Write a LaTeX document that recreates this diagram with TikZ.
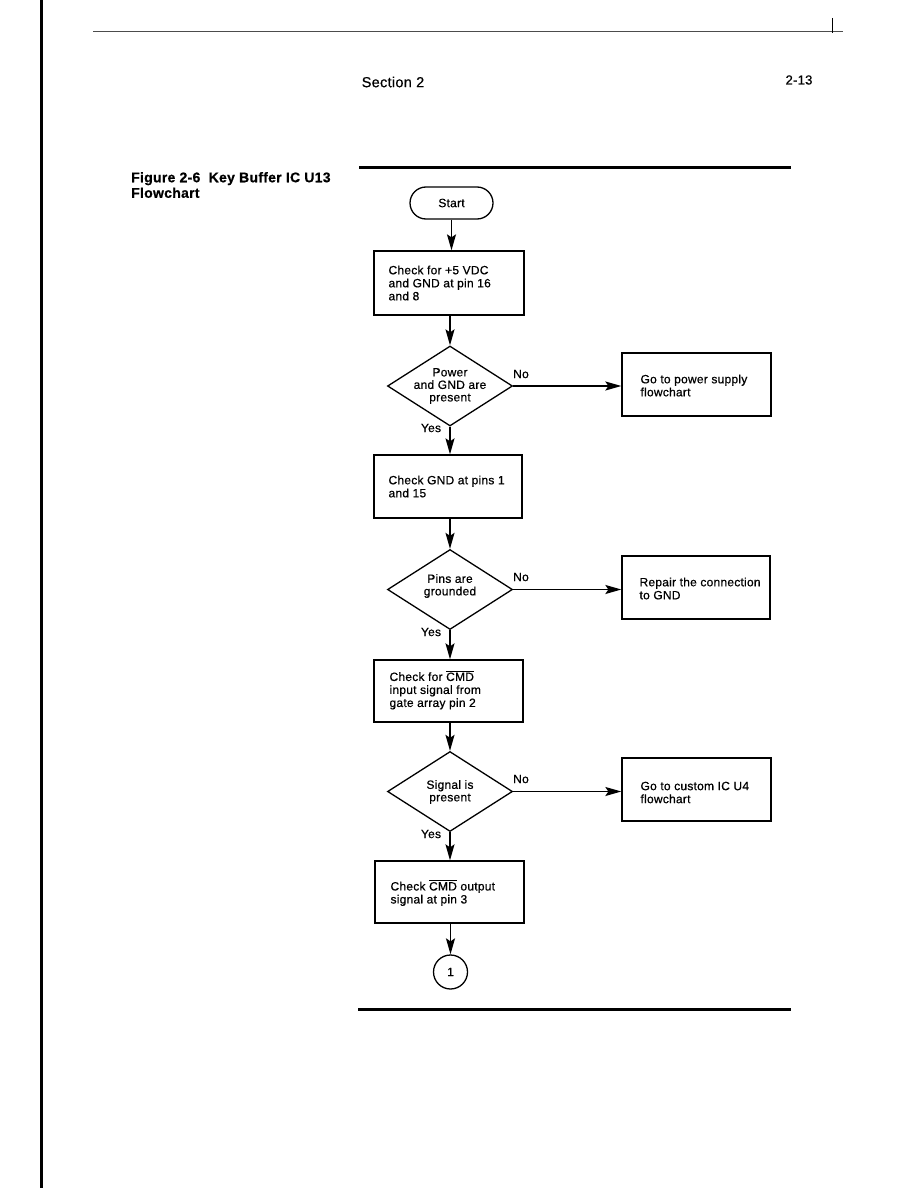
\documentclass[tikz,border=0pt]{standalone}
\usepackage{fontspec}
\setmainfont[LetterSpace=2,FakeBold=0.6]{Liberation Sans}
\usetikzlibrary{shapes.geometric,arrows.meta}
\begin{document}
\begin{tikzpicture}[x=1pt,y=-1pt,
  ln/.style={line width=1.3pt},
  arr/.style={ln,-{Stealth[length=16pt,width=9pt,inset=3pt]}},
  boxn/.style={draw,ln,rectangle,inner sep=0pt},
  diam/.style={draw,ln,diamond,inner sep=0pt,minimum width=125pt,minimum height=80pt},
  txt/.style={font=\fontsize{12}{13}\selectfont,align=left,inner sep=0pt,anchor=west},
  ctxt/.style={font=\fontsize{12}{12.5}\selectfont,align=center,inner sep=0pt},
  lbl/.style={font=\fontsize{12}{13}\selectfont,inner sep=0pt},
  rule/.style={line width=3pt}]
\useasboundingbox (0,0) rectangle (918,1188);
\fill[white] (0,0) rectangle (918,1188);
% page decorations
\draw[line width=3.2pt] (41.5,0) -- (41.5,1188);
\draw[line width=0.7pt,black!70] (93,31) -- (843,31);
\draw[line width=0.6pt] (832,18) -- (832,33);
\node[lbl,font=\fontsize{14.5}{16}\selectfont] (sec) at (393,82) {Section 2};
\node[lbl,font=\fontsize{13}{14}\selectfont] (pg) at (799,80) {2-13};
\node[anchor=west,inner sep=0pt,align=left,font=\fontsize{14}{15.5}\bfseries\selectfont] (cap) at (131,185) {Figure 2-6\ \ Key Buffer IC U13\\Flowchart};
\draw[rule] (359,167.5) -- (791,167.5);
\draw[rule] (358,1009) -- (791,1009);
% start
\node[draw,ln,rectangle,rounded corners=16pt,minimum width=83pt,minimum height=32pt,inner sep=0pt,font=\fontsize{12}{13}\selectfont] (start) at (451.5,203) {Start};
% box1
\node[boxn,minimum width=150pt,minimum height=64pt] (b1) at (449,283) {};
\node[txt] (b1t) at ([xshift=15pt]b1.west) {Check for +5 VDC\\and GND at pin 16\\and 8};
% diamond1
\node[diam] (d1) at (450,386) {};
\node[ctxt] (d1t) at (450,386) {Power\\and GND are\\present};
\node[boxn,minimum width=149pt,minimum height=63pt] (r1) at (696.5,384.5) {};
\node[txt] (r1t) at ([xshift=19pt,yshift=-1pt]r1.west) {Go to power supply\\flowchart};
\node[lbl] (no1) at (521,374) {No};
\node[lbl] (yes1) at (431,428) {Yes};
% box2
\node[boxn,minimum width=148pt,minimum height=63pt] (b2) at (448,486.5) {};
\node[txt] (b2t) at ([xshift=15pt]b2.west) {Check GND at pins 1\\and 15};
% diamond2
\node[diam] (d2) at (450,589.5) {};
\node[ctxt] (d2t) at (450,586) {Pins are\\grounded};
\node[boxn,minimum width=148pt,minimum height=63pt] (r2) at (696,587.5) {};
\node[txt] (r2t) at ([xshift=18pt,yshift=-1pt]r2.west) {Repair the connection\\to GND};
\node[lbl] (no2) at (521,577) {No};
\node[lbl] (yes2) at (431,632) {Yes};
% box3
\node[boxn,minimum width=149pt,minimum height=62pt] (b3) at (448.5,691) {};
\node[txt] (b3t) at ([xshift=16pt,yshift=1pt]b3.west) {Check for $\overline{\mbox{CMD}}$\\input signal from\\gate array pin 2};
% diamond3
\node[diam] (d3) at (450,791.5) {};
\node[ctxt] (d3t) at (450,792) {Signal is\\present};
\node[boxn,minimum width=149pt,minimum height=63pt] (r3) at (696.5,789.5) {};
\node[txt] (r3t) at ([xshift=19pt,yshift=-3pt]r3.west) {Go to custom IC U4\\flowchart};
\node[lbl] (no3) at (521,779) {No};
\node[lbl] (yes3) at (431,834) {Yes};
% box4
\node[boxn,minimum width=149pt,minimum height=62pt] (b4) at (449.5,892) {};
\node[txt] (b4t) at ([xshift=16pt,yshift=-1pt]b4.west) {Check $\overline{\mbox{CMD}}$ output\\signal at pin 3};
% connector circle
\node[draw,ln,circle,minimum size=34pt,inner sep=0pt,font=\fontsize{12}{13}\selectfont] (c1) at (450.5,972) {1};
% connectors
\draw[arr] (start.south) -- (start.south |- b1.north);
\draw[arr] (b1.south -| d1.north) -- (d1.north);
\draw[arr] (d1.east) -- (r1.west |- d1.east);
\draw[arr] (d1.south) -- (d1.south |- b2.north);
\draw[arr] (b2.south -| d2.north) -- (d2.north);
\draw[arr] (d2.east) -- (r2.west |- d2.east);
\draw[arr] (d2.south) -- (d2.south |- b3.north);
\draw[arr] (b3.south -| d3.north) -- (d3.north);
\draw[arr] (d3.east) -- (r3.west |- d3.east);
\draw[arr] (d3.south) -- (d3.south |- b4.north);
\draw[arr] (b4.south -| c1.north) -- (c1.north);
\end{tikzpicture}
\end{document}
